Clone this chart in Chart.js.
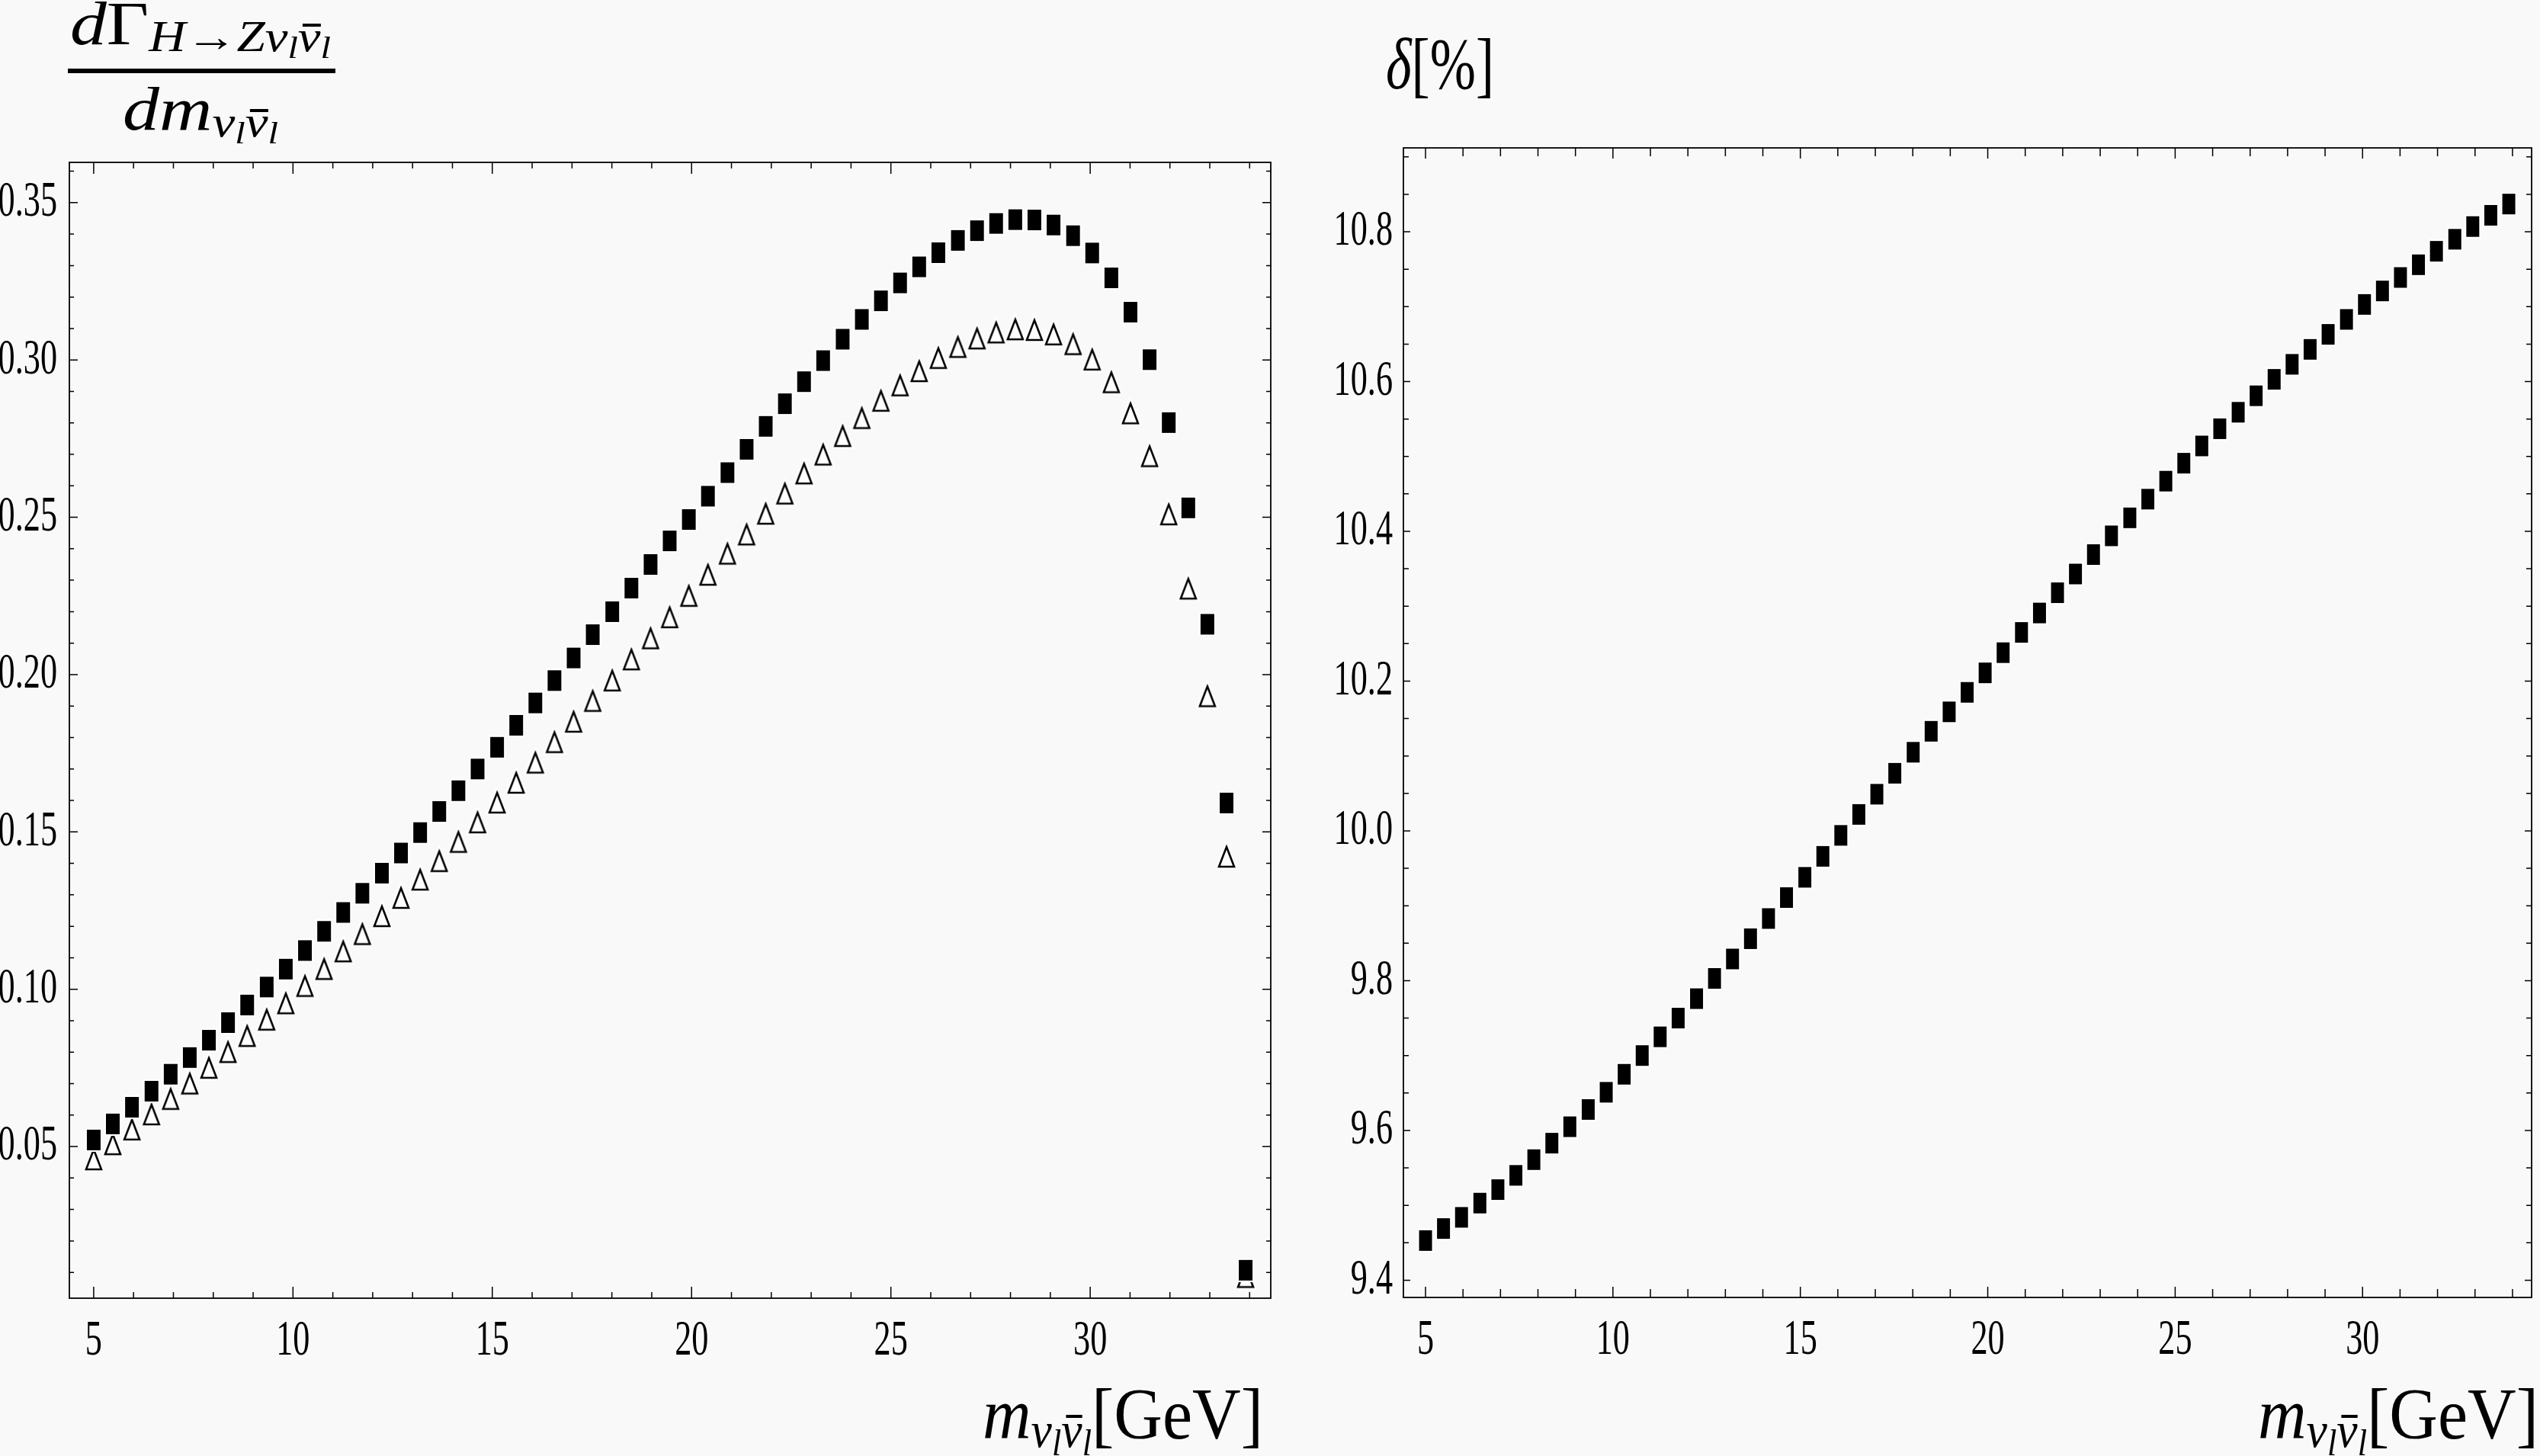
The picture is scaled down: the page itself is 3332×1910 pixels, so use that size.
<!DOCTYPE html>
<html>
<head>
<meta charset="utf-8">
<script src="https://cdn.jsdelivr.net/npm/chart.js@4.4.0/dist/chart.umd.min.js"></script>
<style>
html,body{margin:0;padding:0;background:#f9f9f9;width:3332px;height:1910px;overflow:hidden;}
canvas{position:absolute;top:0;}
.t{position:absolute;left:0;top:0;font-family:"Liberation Serif","DejaVu Serif",serif;color:#000;white-space:nowrap;line-height:1;}
.t .in{display:inline-block;}
.t i{font-style:italic;}
.s1{font-size:0.7em;vertical-align:-0.16em;}
.s2{font-size:0.72em;vertical-align:-0.22em;}
.bar{position:relative;display:inline-block;}
.bar::before{content:"";position:absolute;left:22%;right:0%;top:0.2em;height:0.06em;background:#000;}
#fracline{position:absolute;left:89px;top:90px;width:351px;height:6px;background:#000;}
</style>
</head>
<body>
<canvas id="c1" width="1700" height="1910" style="left:0px"></canvas>
<canvas id="c2" width="1632" height="1910" style="left:1700px"></canvas>

<div id="num" class="t" style="font-size:80px"><span class="in"><i>d</i>Γ<span class="s1"><i>H</i>→<i>Z</i><i>ν</i><span class="s2"><i>l</i></span><span class="bar"><i>ν</i></span><span class="s2"><i>l</i></span></span></span></div>
<div id="fracline"></div>
<div id="den" class="t" style="font-size:80px"><span class="in"><i>dm</i><span class="s1"><i>ν</i><span class="s2"><i>l</i></span><span class="bar"><i>ν</i></span><span class="s2"><i>l</i></span></span></span></div>
<div id="dtitle" class="t" style="font-size:95px"><span class="in"><i>δ</i>[%]</span></div>
<div id="xt1" class="t" style="font-size:95px"><span class="in"><i>m</i><span class="s1"><i>ν</i><span class="s2"><i>l</i></span><span class="bar"><i>ν</i></span><span class="s2"><i>l</i></span></span>[GeV]</span></div>
<div id="xt2" class="t" style="font-size:95px"><span class="in"><i>m</i><span class="s1"><i>ν</i><span class="s2"><i>l</i></span><span class="bar"><i>ν</i></span><span class="s2"><i>l</i></span></span>[GeV]</span></div>

<script>
// ---------------- data ----------------
const massValues = [5.00, 5.48, 5.96, 6.45, 6.93, 7.41, 7.89, 8.37, 8.85, 9.34,
  9.82, 10.30, 10.78, 11.26, 11.74, 12.23, 12.71, 13.19, 13.67, 14.15,
  14.63, 15.12, 15.60, 16.08, 16.56, 17.04, 17.52, 18.01, 18.49, 18.97,
  19.45, 19.93, 20.41, 20.90, 21.38, 21.86, 22.34, 22.82, 23.30, 23.79,
  24.27, 24.75, 25.23, 25.71, 26.19, 26.68, 27.16, 27.64, 28.12, 28.60,
  29.08, 29.57, 30.05, 30.53, 31.01, 31.49, 31.97, 32.46, 32.94, 33.42, 33.90];

const widthSquares = [0.0521, 0.0572, 0.0625, 0.0676, 0.0730, 0.0783, 0.0838, 0.0894, 0.0950, 0.1007,
  0.1064, 0.1123, 0.1184, 0.1244, 0.1305, 0.1369, 0.1433, 0.1498, 0.1565, 0.1631,
  0.1700, 0.1769, 0.1839, 0.1910, 0.1981, 0.2053, 0.2127, 0.2200, 0.2275, 0.2350,
  0.2425, 0.2493, 0.2567, 0.2642, 0.2716, 0.2789, 0.2861, 0.2931, 0.2998, 0.3066,
  0.3129, 0.3188, 0.3245, 0.3296, 0.3341, 0.3380, 0.3411, 0.3434, 0.3446, 0.3445,
  0.3429, 0.3395, 0.3340, 0.3261, 0.3152, 0.3001, 0.2801, 0.2530, 0.2160, 0.1592, 0.0107];

const widthTriangles = [0.0459, 0.0507, 0.0554, 0.0602, 0.0651, 0.0700, 0.0750, 0.0800, 0.0851, 0.0903,
  0.0955, 0.1010, 0.1064, 0.1120, 0.1175, 0.1232, 0.1290, 0.1348, 0.1407, 0.1468,
  0.1530, 0.1593, 0.1656, 0.1720, 0.1785, 0.1850, 0.1916, 0.1981, 0.2048, 0.2115,
  0.2182, 0.2250, 0.2317, 0.2384, 0.2445, 0.2511, 0.2575, 0.2639, 0.2699, 0.2758,
  0.2815, 0.2870, 0.2919, 0.2964, 0.3006, 0.3041, 0.3068, 0.3087, 0.3097, 0.3095,
  0.3081, 0.3050, 0.3001, 0.2929, 0.2830, 0.2694, 0.2509, 0.2273, 0.1931, 0.1421, 0.0085];

const deltaValues = [9.453, 9.469, 9.484, 9.503, 9.521, 9.540, 9.561, 9.583, 9.605, 9.628,
  9.651, 9.675, 9.700, 9.725, 9.750, 9.776, 9.803, 9.829, 9.856, 9.883,
  9.911, 9.938, 9.966, 9.994, 10.022, 10.049, 10.077, 10.105, 10.133, 10.159,
  10.185, 10.211, 10.238, 10.265, 10.291, 10.318, 10.343, 10.369, 10.394, 10.418,
  10.443, 10.467, 10.491, 10.514, 10.537, 10.559, 10.581, 10.603, 10.623, 10.643,
  10.663, 10.683, 10.703, 10.721, 10.739, 10.756, 10.774, 10.790, 10.807, 10.822, 10.837];

const xTickLabels = ['5', '10', '15', '20', '25', '30'];
const leftYTickLabels = ['0.05', '0.10', '0.15', '0.20', '0.25', '0.30', '0.35'];
const rightYTickLabels = ['9.4', '9.6', '9.8', '10.0', '10.2', '10.4', '10.6', '10.8'];

// ---------------- styling helpers ----------------
const TEXT_SQUEEZE = 0.67;
const TICK_FONT = {family: "'Liberation Serif', 'DejaVu Serif', serif", size: 66, lineHeight: 1};

function squareMarker(w, h, halo) {
  const c = document.createElement('canvas');
  c.width = w + 2 * halo; c.height = h + 2 * halo;
  const g = c.getContext('2d');
  g.fillStyle = '#ffffff'; g.fillRect(0, 0, c.width, c.height);
  g.fillStyle = '#000000'; g.fillRect(halo, halo, w, h);
  return c;
}
function triangleMarker(w, h, lw, halo) {
  const pad = Math.ceil(halo + lw * 2);
  const c = document.createElement('canvas');
  c.width = w + 2 * pad; c.height = h + 2 * pad;
  const g = c.getContext('2d');
  g.lineJoin = 'miter'; g.miterLimit = 10;
  g.beginPath();
  g.moveTo(pad + w / 2, pad); g.lineTo(pad + w, pad + h); g.lineTo(pad, pad + h); g.closePath();
  g.strokeStyle = '#ffffff'; g.lineWidth = lw + 2 * halo; g.stroke();
  g.fillStyle = '#ffffff'; g.fill();
  g.strokeStyle = '#000000'; g.lineWidth = lw; g.stroke();
  return c;
}
function squeezeText(canvas) {
  const ctx = canvas.getContext('2d');
  const nativeFill = CanvasRenderingContext2D.prototype.fillText;
  ctx.fillText = function (t, x, y, mw) {
    const w = this.measureText(t).width * TEXT_SQUEEZE;
    return nativeFill.call(this, t, x, y, (mw === undefined || mw === null) ? w : Math.min(mw, w));
  };
  return ctx;
}

const framePlugin = {
  id: 'frame',
  afterDraw(chart, args, o) {
    const ctx = chart.ctx, a = chart.chartArea, x = chart.scales.x, y = chart.scales.y;
    const majX = x.ticks.map(t => t.value), majY = y.ticks.map(t => t.value);
    ctx.save();
    ctx.strokeStyle = '#000';
    ctx.lineWidth = o.tickWidth;
    ctx.beginPath();
    for (let k = Math.ceil(x.min / o.xMinor - 1e-9); k * o.xMinor <= x.max + 1e-9; k++) {
      const v = k * o.xMinor;
      const len = majX.some(m => Math.abs(m - v) < 1e-6) ? o.xMajLen : o.xMinLen;
      const p = x.getPixelForValue(v);
      ctx.moveTo(p, a.bottom); ctx.lineTo(p, a.bottom - len);
      ctx.moveTo(p, a.top); ctx.lineTo(p, a.top + len);
    }
    for (let k = Math.ceil(y.min / o.yMinor - 1e-9); k * o.yMinor <= y.max + 1e-9; k++) {
      const v = k * o.yMinor;
      const len = majY.some(m => Math.abs(m - v) < 1e-6) ? o.yMajLen : o.yMinLen;
      const p = y.getPixelForValue(v);
      ctx.moveTo(a.left, p); ctx.lineTo(a.left + len, p);
      ctx.moveTo(a.right, p); ctx.lineTo(a.right - len, p);
    }
    ctx.stroke();
    ctx.lineWidth = o.frameWidth;
    ctx.strokeRect(a.left, a.top, a.right - a.left, a.bottom - a.top);
    ctx.restore();
  }
};

function makeChart(canvas, cfg) {
  squeezeText(canvas);
  return new Chart(canvas, {
    type: 'scatter',
    data: {datasets: cfg.datasets},
    plugins: [framePlugin],
    options: {
      responsive: false,
      animation: false,
      events: [],
      layout: {padding: {top: cfg.padTop, right: cfg.padRight, left: 0, bottom: 0}},
      plugins: {legend: {display: false}, tooltip: {enabled: false}, frame: cfg.frame},
      scales: {
        x: {
          type: 'linear', min: cfg.xMin, max: cfg.xMax,
          afterFit(s) { s.height = cfg.xAxisHeight; },
          afterBuildTicks(s) { s.ticks = xTickLabels.map(v => ({value: parseFloat(v)})); },
          ticks: {autoSkip: false, maxRotation: 0, minRotation: 0, padding: 24, color: '#000', font: TICK_FONT,
                  callback: (v, i) => xTickLabels[i]},
          grid: {display: false, drawTicks: false}, border: {display: false}
        },
        y: {
          type: 'linear', min: cfg.yMin, max: cfg.yMax,
          afterFit(s) { s.width = cfg.yAxisWidth; },
          afterBuildTicks(s) { s.ticks = cfg.yLabels.map(v => ({value: parseFloat(v)})); },
          ticks: {autoSkip: false, padding: cfg.yPad, color: '#000', font: TICK_FONT,
                  callback: (v, i) => cfg.yLabels[i]},
          grid: {display: false, drawTicks: false}, border: {display: false}
        }
      }
    }
  });
}

const squareL = squareMarker(18, 27, 2);
const squareR = squareMarker(17, 27, 2);
const triangle = triangleMarker(20, 26, 2.6, 2);

makeChart(document.getElementById('c1'), {
  datasets: [
    {data: massValues.map((m, i) => ({x: m, y: widthSquares[i]})), showLine: false, pointStyle: squareL, pointRadius: 10},
    {data: massValues.map((m, i) => ({x: m, y: widthTriangles[i]})), showLine: false, pointStyle: triangle, pointRadius: 10}
  ],
  padTop: 213, padRight: 33, xAxisHeight: 207, yAxisWidth: 91, yPad: 16,
  xMin: 4.39, xMax: 34.53, yMin: 0.0018, yMax: 0.3628, yLabels: leftYTickLabels,
  frame: {tickWidth: 1.5, frameWidth: 1.8, xMinor: 1, xMajLen: 15, xMinLen: 8, yMinor: 0.01, yMajLen: 11, yMinLen: 6}
});

makeChart(document.getElementById('c2'), {
  datasets: [
    {data: massValues.map((m, i) => ({x: m, y: deltaValues[i]})), showLine: false, pointStyle: squareR, pointRadius: 10}
  ],
  padTop: 194, padRight: 9, xAxisHeight: 208, yAxisWidth: 141, yPad: 14,
  xMin: 4.41, xMax: 34.51, yMin: 9.377, yMax: 10.912, yLabels: rightYTickLabels,
  frame: {tickWidth: 1.5, frameWidth: 1.8, xMinor: 1, xMajLen: 14, xMinLen: 11, yMinor: 0.05, yMajLen: 9, yMinLen: 7}
});

// ---------------- place the HTML titles ----------------
function place(id, o) {
  const el = document.getElementById(id);
  const inner = el.querySelector('.in');
  const mk = document.createElement('span');
  mk.style.cssText = 'display:inline-block;width:0;height:0;vertical-align:baseline';
  inner.insertBefore(mk, inner.firstChild);
  const er = el.getBoundingClientRect();
  const ir = inner.getBoundingClientRect();
  const mr = mk.getBoundingClientRect();
  const baseOff = mr.top - er.top;
  const s = o.width / ir.width;
  inner.style.transformOrigin = 'left top';
  inner.style.transform = 'scaleX(' + s + ')';
  el.style.top = (o.baseline - baseOff) + 'px';
  el.style.left = ((o.left !== undefined) ? o.left : (o.right - o.width)) + 'px';
}
place('num', {left: 92, baseline: 58, width: 342});
place('den', {left: 161, baseline: 170, width: 204});
place('dtitle', {left: 1818, baseline: 116, width: 142});
place('xt1', {right: 1657, baseline: 1887, width: 368});
place('xt2', {right: 3330, baseline: 1887, width: 368});
</script>
</body>
</html>
